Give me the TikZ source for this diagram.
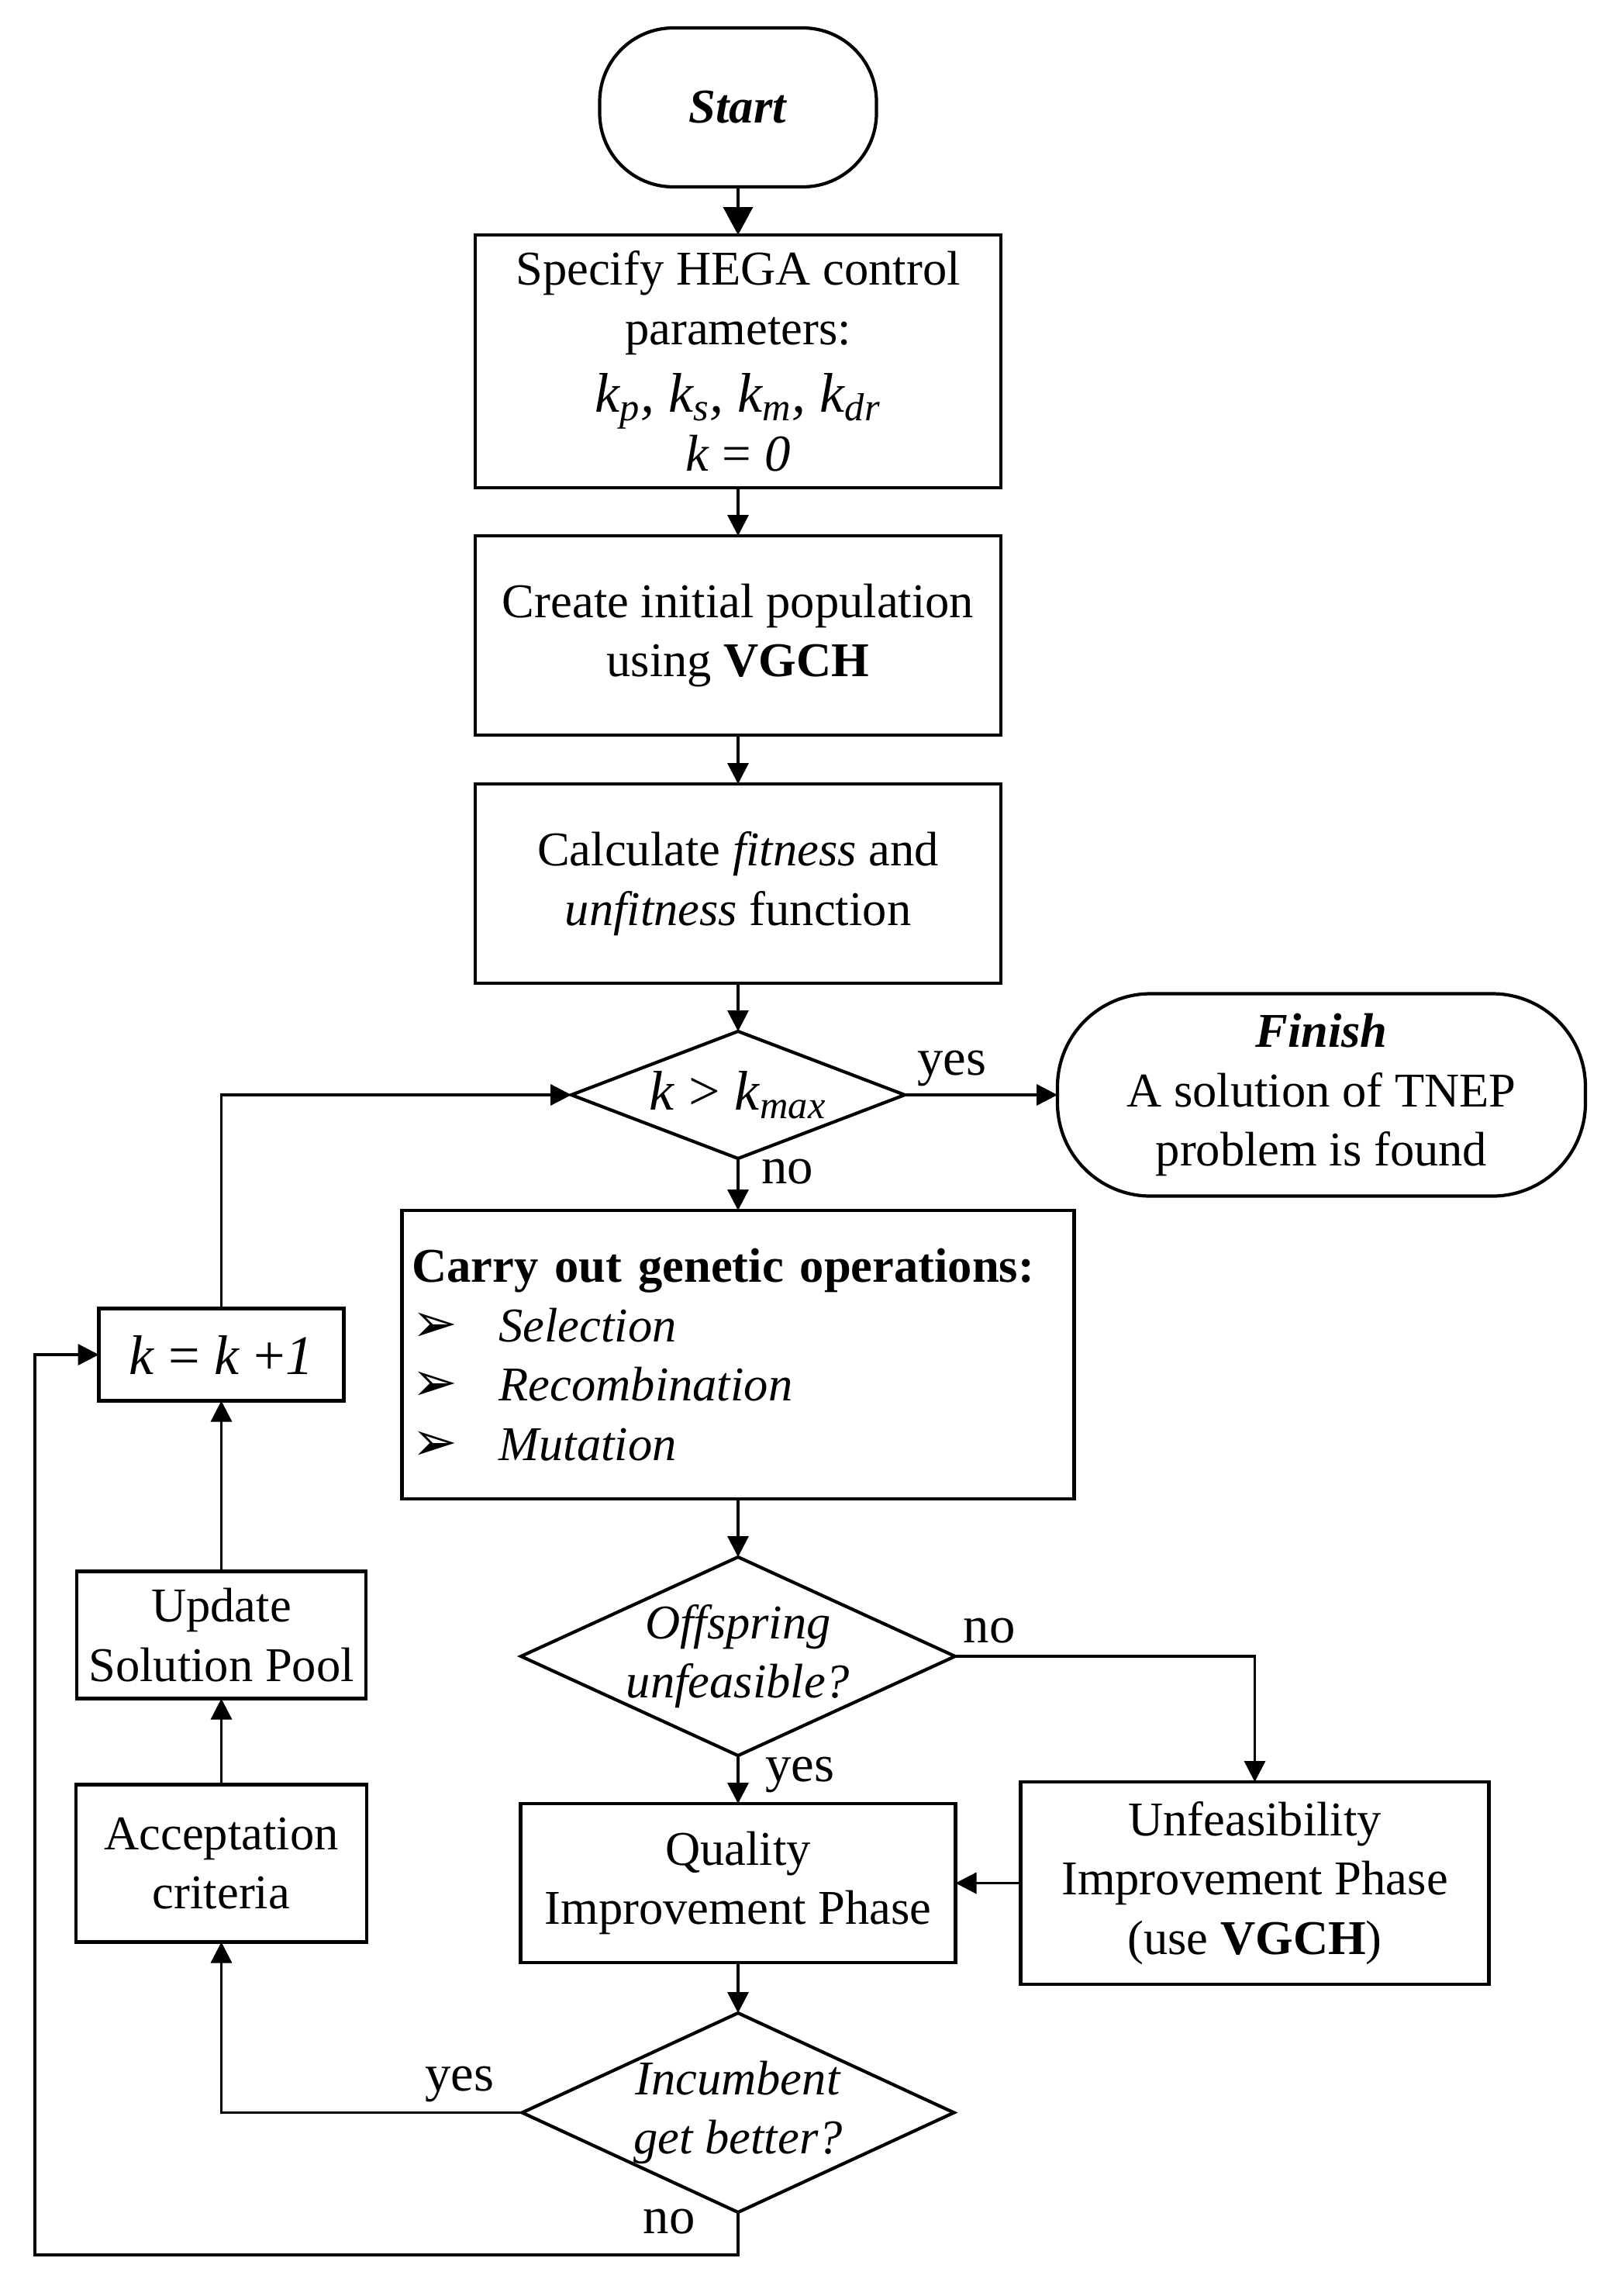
\documentclass[tikz,border=0pt]{standalone}
\usepackage{fontspec}
\setmainfont{Liberation Serif}
\newfontfamily\symfont{DejaVu Sans}
\usetikzlibrary{shapes.geometric, arrows.meta, positioning, calc}

\begin{document}
\begin{tikzpicture}[
        node distance=0.62cm and 0.8cm,
        font=\fontsize{17.8}{21.8}\selectfont,
        terminal/.style={rectangle, rounded corners=0.95cm, draw=black, line width=1.2pt, align=center, inner sep=2pt, outer sep=0pt},
        process/.style={rectangle, draw=black, line width=1.2pt, align=center, inner sep=2pt, outer sep=0pt},
        decision/.style={diamond, draw=black, line width=1.2pt, align=center, inner sep=-4pt, outer sep=0pt},
        arrow/.style={line width=1pt, -{Triangle[length=0.27cm, width=0.27cm]}},
        lbl/.style={font=\fontsize{19}{22}\selectfont, inner sep=1pt},
        bigmath/.style={font=\fontsize{20.5}{24}\selectfont}
    ]
        \useasboundingbox (0,0) rectangle (20.78,-29.61);

        % Main column
        \node (start) [terminal, minimum width=3.57cm, minimum height=2.05cm] at (9.52,-1.385) {\textbf{\textit{Start}}};
        \node (spec) [process, minimum width=6.78cm, minimum height=3.26cm, below=0.62cm of start] {Specify HEGA control\\ parameters:\\[3pt] {\fontsize{20.5}{24}\selectfont\itshape k\textsubscript{p}, k\textsubscript{s}, k\textsubscript{m}, k\textsubscript{dr}}\\ {\fontsize{19}{22}\selectfont\textit{k} = \textit{0}}};
        \node (create) [process, minimum width=6.78cm, minimum height=2.57cm, below=of spec] {Create initial population\\ using \textbf{VGCH}};
        \node (calc) [process, minimum width=6.78cm, minimum height=2.57cm, below=0.63cm of create] {Calculate \textit{fitness} and\\ \textit{unfitness} function};
        \node (kcheck) [decision, bigmath, aspect=2.6, minimum width=4.30cm, minimum height=1.64cm, below=of calc] {\textit{k} > \textit{k}\textsubscript{\textit{max}}};
        \node (finish) [terminal, rounded corners=1.2cm, minimum width=6.81cm, minimum height=2.61cm, right=1.97cm of kcheck] {\textbf{\textit{Finish}}\\ A solution of TNEP\\ problem is found};
        \node (carry) [process, align=left, text width=8.41cm, minimum width=8.67cm, minimum height=3.72cm, below=0.67cm of kcheck] {\textbf{Carry out genetic operations:}\\
            \makebox[1.12cm][l]{\symfont\fontsize{20}{20}\selectfont ➢}\textit{Selection}\\
            \makebox[1.12cm][l]{\symfont\fontsize{20}{20}\selectfont ➢}\textit{Recombination}\\
            \makebox[1.12cm][l]{\symfont\fontsize{20}{20}\selectfont ➢}\textit{Mutation}};
        \node (offspring) [decision, aspect=2.2, minimum width=5.60cm, minimum height=2.56cm, below=0.75cm of carry] {\textit{Offspring}\\ \textit{unfeasible?}};
        \node (quality) [process, minimum width=5.61cm, minimum height=2.05cm, below=of offspring] {Quality\\ Improvement Phase};
        \node (unfeas) [process, minimum width=6.04cm, minimum height=2.61cm, right=0.84cm of quality] {Unfeasibility\\ Improvement Phase\\ (use \textbf{VGCH})};
        \node (incumb) [decision, aspect=2.2, minimum width=5.57cm, minimum height=2.57cm, below=0.65cm of quality] {\textit{Incumbent}\\ \textit{get better?}};

        % Left column
        \node (kplus) [process, bigmath, minimum width=3.16cm, minimum height=1.19cm, left=0.75cm of carry] {\textit{k} = \textit{k} +\textit{1}};
        \node (update) [process, minimum width=3.73cm, minimum height=1.64cm, below=2.2cm of kplus] {Update\\ Solution Pool};
        \node (accept) [process, minimum width=3.75cm, minimum height=2.03cm, below=1.11cm of update] {Acceptation\\ criteria};
        \coordinate (lowleft) at (0.45,-29.08);

        % Draws - main flow
        \draw [arrow, -{Triangle[length=0.36cm, width=0.38cm]}] (start) -- (spec);
        \draw [arrow] (spec) -- (create);
        \draw [arrow] (create) -- (calc);
        \draw [arrow] (calc) -- (kcheck);
        \draw [arrow] (kcheck) -- node[lbl, above, pos=0.31, yshift=0.06cm] {yes} (finish);
        \draw [arrow] (kcheck) -- node[lbl, right, pos=0.25, xshift=0.25cm] {no} (carry);
        \draw [arrow] (carry) -- (offspring);
        \draw [arrow] (offspring) -- node[lbl, right, pos=0.4, xshift=0.3cm] {yes} (quality);
        \draw [arrow] (offspring.east) -| node[lbl, above, pos=0.057, yshift=0.12cm] {no} (unfeas.north);
        \draw [arrow] (unfeas) -- (quality);
        \draw [arrow] (quality) -- (incumb);

        % Draws - loop back
        \draw [arrow] (incumb.west) -| node[lbl, above, pos=0.104, yshift=0.08cm] {yes} (accept.south);
        \draw [arrow] (accept) -- (update);
        \draw [arrow] (update) -- (kplus);
        \draw [arrow] (kplus.north) |- (kcheck.west);
        \draw [arrow] (incumb.south) |- node[lbl, left, pos=0.11, xshift=-0.5cm] {no} (lowleft) |- (kplus.west);
    \end{tikzpicture}
\end{document}
